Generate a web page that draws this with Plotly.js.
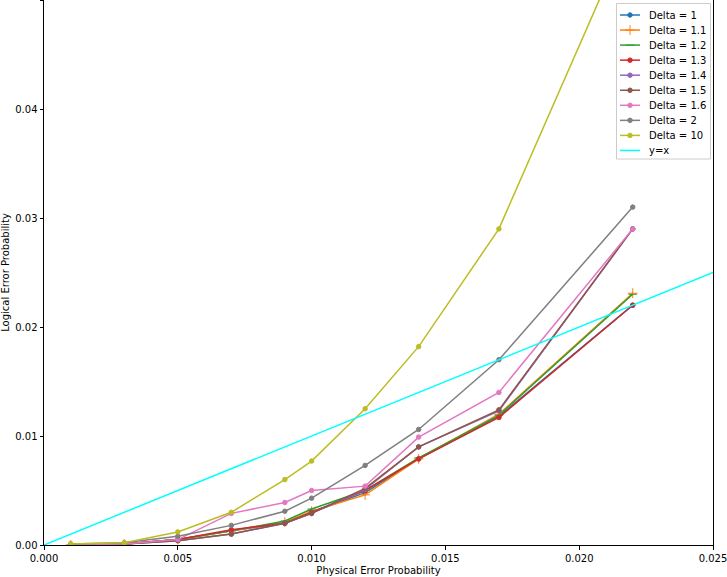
<!DOCTYPE html>
<html><head><meta charset="utf-8">
<script src="https://cdn.plot.ly/plotly-3.0.1.min.js"></script>
<style>html,body{margin:0;padding:0;background:#fff}#chart{width:727px;height:577px}</style>
</head><body><div id="chart"></div>
<script>
const physErr = [0.001, 0.003, 0.005, 0.007, 0.009, 0.010, 0.012, 0.014, 0.017, 0.022];
const delta1   = [0.0000, 0.0001, 0.0005, 0.0013, 0.0020, 0.0030, 0.0048, 0.0079, 0.0118, 0.0220];
const delta1_1 = [0.0000, 0.0001, 0.0005, 0.0013, 0.0021, 0.0031, 0.0046, 0.0079, 0.0120, 0.0231];
const delta1_2 = [0.0000, 0.0001, 0.0005, 0.0013, 0.0022, 0.0033, 0.0050, 0.0080, 0.0119, 0.0230];
const delta1_3 = [0.0000, 0.0001, 0.0005, 0.0014, 0.0020, 0.0030, 0.0050, 0.0079, 0.0117, 0.0220];
const delta1_4 = [0.0000, 0.0001, 0.0004, 0.0010, 0.0020, 0.0029, 0.0051, 0.0090, 0.0123, 0.0290];
const delta1_5 = [0.0000, 0.0001, 0.0004, 0.0010, 0.0020, 0.0029, 0.0052, 0.0090, 0.0124, 0.0290];
const delta1_6 = [0.0000, 0.0001, 0.0005, 0.0029, 0.0039, 0.0050, 0.0054, 0.0099, 0.0140, 0.0290];
const delta2   = [0.0001, 0.0002, 0.0008, 0.0018, 0.0031, 0.0043, 0.0073, 0.0106, 0.0170, 0.0310];
const delta10  = [0.0001, 0.0002, 0.0012, 0.0030, 0.0060, 0.0077, 0.0125, 0.0182, 0.0290, 0.0570];
const yxX = [0, 0.025];
const yxY = [0, 0.025];

const names = ['Delta = 1','Delta = 1.1','Delta = 1.2','Delta = 1.3','Delta = 1.4','Delta = 1.5','Delta = 1.6','Delta = 2','Delta = 10','y=x'];
const series = [delta1, delta1_1, delta1_2, delta1_3, delta1_4, delta1_5, delta1_6, delta2, delta10];
const colors = ['#1f77b4','#ff7f0e','#2ca02c','#d62728','#9467bd','#8c564b','#e377c2','#7f7f7f','#bcbd22','#00ffff'];
const symbols = ['circle','cross-thin','line-ew','circle','circle','circle','circle','circle','circle', null];

function mk(i){
  const sym = symbols[i];
  return {color:colors[i], symbol:sym, size: sym==='cross-thin'?7:(sym==='line-ew'?0:4.5),
          line:{color:colors[i], width:1}};
}

const traces = series.map((s,i)=>({
  x: physErr, y: s, name: names[i], type:'scatter', mode:'lines+markers',
  line:{color:colors[i], width:1.5}, marker: mk(i), showlegend:false
}));
traces.push({x:yxX, y:yxY, name:'y=x', type:'scatter', mode:'lines', line:{color:colors[9], width:1.5}, showlegend:false});

// Custom legend (matplotlib style) on an overlay axis spanning the plot area
const W = 727, H = 577, ML = 44, MR = 14, MT = 0, MB = 32;
const PW = W-ML-MR, PH = H-MT-MB;
const px = v => (v-ML)/PW;          // pixel -> paper x
const py = v => 1-(v-MT)/PH;        // pixel -> paper y
const shapes = [{type:'rect', xref:'paper', yref:'paper', x0:px(616.5), x1:px(710.5), y0:py(159), y1:py(3.5),
  line:{color:'#cccccc', width:1}, fillcolor:'rgba(255,255,255,0.8)', layer:'below'}];
const annotations = [];
names.forEach((nm,i)=>{
  const cy = 15 + i*15.05;
  const t = {x:[px(620),px(630),px(640)], y:[py(cy),py(cy),py(cy)], xaxis:'x2', yaxis:'y2',
    type:'scatter', mode: symbols[i]?'lines+markers':'lines', showlegend:false, hoverinfo:'skip',
    line:{color:colors[i], width:1.5}};
  if (symbols[i]) { t.marker = mk(i); t.marker.opacity = [0,1,0]; }
  traces.push(t);
  annotations.push({xref:'paper', yref:'paper', x:px(647), y:py(cy), xanchor:'left', yanchor:'middle',
    text:nm, showarrow:false, font:{family:'DejaVu Sans', size:10, color:'#000'}});
});

const layout = {
  width:W, height:H,
  margin:{l:ML, r:MR, t:MT, b:MB, pad:0},
  paper_bgcolor:'#fff', plot_bgcolor:'#fff',
  font:{family:'DejaVu Sans', size:10, color:'#000'},
  showlegend:false,
  shapes, annotations,
  xaxis:{range:[0,0.025], tickvals:[0,0.005,0.01,0.015,0.02,0.025],
         ticktext:['0.000','0.005','0.010','0.015','0.020','0.025'], ticklabeloverflow:'allow',
         showgrid:false, zeroline:false, showline:true, linecolor:'#000', linewidth:1, mirror:true,
         ticks:'outside', ticklen:3.5, tickcolor:'#000',
         title:{text:'Physical Error Probability', standoff:4, font:{size:10}}},
  yaxis:{range:[0,0.05], tickvals:[0,0.01,0.02,0.03,0.04,0.05],
         ticktext:['0.00','0.01','0.02','0.03','0.04','0.05'],
         showgrid:false, zeroline:false, showline:true, linecolor:'#000', linewidth:1, mirror:true,
         ticks:'outside', ticklen:3.5, tickcolor:'#000',
         title:{text:'Logical Error Probability', standoff:4, font:{size:10}}},
  xaxis2:{overlaying:'x', range:[0,1], visible:false, fixedrange:true},
  yaxis2:{overlaying:'y', range:[0,1], visible:false, fixedrange:true}
};
Plotly.newPlot('chart', traces, layout, {displayModeBar:false, staticPlot:true});
</script></body></html>
